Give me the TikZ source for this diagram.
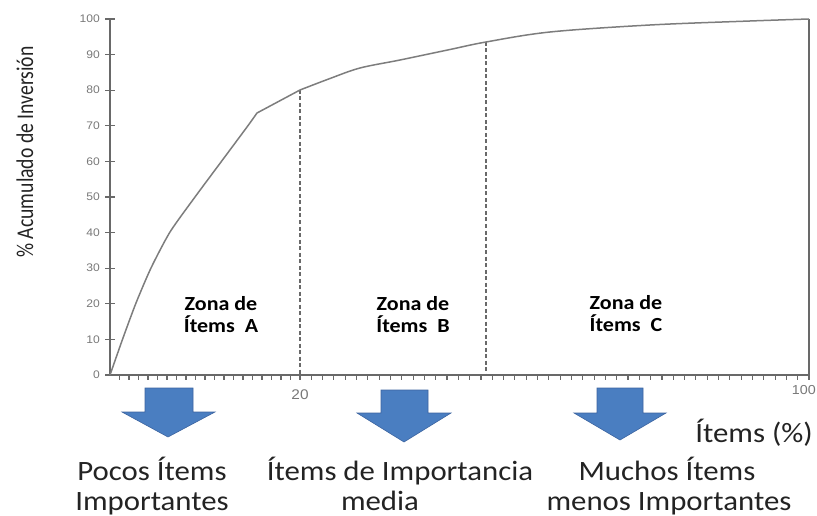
\documentclass[tikz,border=0pt]{standalone}
\usepackage{fontspec}
\setmainfont[FakeStretch=1.1]{Carlito}
\newfontfamily\tickfont[FakeStretch=1.1]{Liberation Sans}
\newfontfamily\titlefont[FakeStretch=0.82]{Carlito}
\definecolor{axisgray}{RGB}{105,105,105}
\definecolor{curvegray}{RGB}{125,125,125}
\definecolor{tickgray}{RGB}{120,120,120}
\definecolor{arrowblue}{RGB}{74,126,193}
\definecolor{arrowedge}{RGB}{60,100,160}
\definecolor{textdark}{RGB}{35,35,35}
\tikzset{
  axisline/.style={draw=axisgray, line width=1.8pt},
  tickline/.style={draw=axisgray, line width=1.1pt},
  curveline/.style={draw=curvegray, line width=1.5pt},
  dashline/.style={draw=axisgray, line width=1.1pt, dash pattern=on 4pt off 2.5pt},
  ticklabel/.style={text=tickgray, font=\tickfont\fontsize{11}{12}\selectfont, inner sep=0pt},
  zonelabel/.style={text=black, font=\bfseries\fontsize{20}{22}\selectfont, inner sep=0pt, align=center},
  bottomlabel/.style={text=textdark, font=\fontsize{28}{31}\selectfont, inner sep=0pt, anchor=base},
  blockarrow/.style={fill=arrowblue, draw=arrowedge, line width=0.6pt, line join=miter}
}
\begin{document}
\begin{tikzpicture}[x=1pt,y=-1pt]
\useasboundingbox (0,0) rectangle (817,516);
% key coordinates
\coordinate (O) at (110,375);
\coordinate (Ytop) at (110,19);
\coordinate (Xend) at (809,375);
\coordinate (Cend) at (809,19);
\coordinate (K) at (257,113);
\coordinate (P20) at (300,90);
\coordinate (PB) at (486,42);
\coordinate (X20) at (300,375);
\coordinate (XB) at (486,375);
% dashed zone separators
\draw[dashline] (P20) -- (X20);
\draw[dashline] (PB) -- (XB);
% x ticks
\foreach \i in {1,...,20} \draw[tickline] ({110+9.5*\i},375) -- ++(0,5);
\foreach \i in {1,...,45} \draw[tickline] ({300+11.311*\i},375) -- ++(0,5);
% y ticks and labels
\foreach \v in {0,10,...,100} {
  \draw[tickline] (105,{375-3.56*\v}) -- (115,{375-3.56*\v});
  \node[ticklabel, anchor=east] at (100,{375-3.56*\v}) {\v};
}
% axes
\draw[axisline] (Ytop) -- (O) -- (Xend) -- (Cend);
% curve
\draw[curveline, line join=round] plot[smooth, tension=0.4] coordinates {(110,375) (123,338) (136,303) (151,268) (170,232) (195,197) (221,162) (247,127) (257,113)}
  -- (P20) plot[smooth, tension=0.55] coordinates {(300,90) (330,78.5) (360,68) (400,60) (450,49.5) (486,42) (550,32) (650,25) (750,21) (809,19)};
% x labels
\node[ticklabel, font=\tickfont\fontsize{14}{15}\selectfont] (l20) at (300,395) {20};
\node[ticklabel, font=\tickfont\fontsize{13}{14}\selectfont, anchor=east] (l100) at (816,390) {100};
% zone labels
\node[zonelabel] (zA) at (221,315) {Zona de\\Ítems\ \ A};
\node[zonelabel] (zB) at (413,315) {Zona de\\Ítems\ \ B};
\node[zonelabel] (zC) at (626,314) {Zona de\\Ítems\ \ C};
% y axis title
\node[text=textdark, font=\titlefont\fontsize{24}{26}\selectfont, rotate=90, inner sep=0pt] (ytitle) at (25,152) {\% Acumulado de Inversión};
% block arrows
\draw[blockarrow] (145,388) -- (193,388) -- (193,412) -- (215,412) -- (168,437) -- (122,412) -- (145,412) -- cycle;
\draw[blockarrow] (381,390) -- (428,390) -- (428,413) -- (451,413) -- (404,442) -- (357,413) -- (381,413) -- cycle;
\draw[blockarrow] (597,388) -- (643,388) -- (643,413) -- (666,413) -- (620,440) -- (574,413) -- (597,413) -- cycle;
% bottom texts
\node[bottomlabel] (a1) at (152,480) {Pocos Ítems};
\node[bottomlabel] (a2) at (152,510) {Importantes};
\node[bottomlabel] (b1) at (400,480) {Ítems de Importancia};
\node[bottomlabel] (b2) at (380,510) {media};
\node[bottomlabel] (c1) at (667,480) {Muchos Ítems};
\node[bottomlabel] (c2) at (669,510) {menos Importantes};
\node[bottomlabel] (xt) at (754,442) {Ítems (\%)};
\end{tikzpicture}
\end{document}
